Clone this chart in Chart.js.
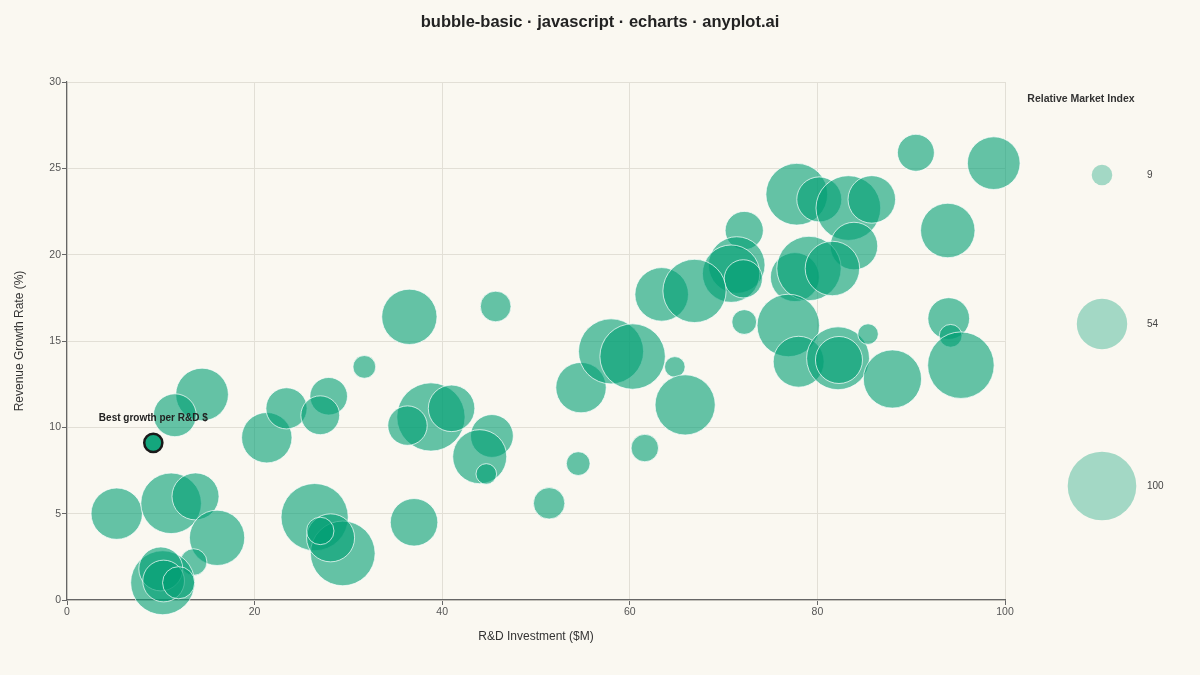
<!DOCTYPE html>
<html>
<head>
<meta charset="utf-8">
<script src="https://cdn.jsdelivr.net/npm/chart.js@4.4.1/dist/chart.umd.min.js"></script>
<style>
  html, body { margin: 0; padding: 0; background: #FAF8F1; }
  #wrap { width: 1200px; height: 675px; }
</style>
</head>
<body>
<div id="wrap"><canvas id="bubble-chart" width="1200" height="675"></canvas></div>
<script>
// R&D investment ($M), revenue growth (%), relative market index
const rdInvestment = [36.5, 31.7, 14.4, 11.5, 21.3, 23.4, 27.9, 27.0, 5.3, 11.1, 13.7, 16.0, 13.5,
    10.2, 10.0, 10.3, 11.9, 26.4, 29.4, 28.1, 27.0, 37.0, 38.8, 36.3, 41.0, 45.7, 45.3, 44.0, 44.7,
    51.4, 54.5, 54.8, 58.0, 60.3, 64.8, 65.9, 61.6, 90.5, 98.8, 93.9, 77.8, 80.2, 83.3, 85.8, 83.9,
    72.2, 71.4, 70.8, 72.1, 72.2, 63.4, 66.9, 77.6, 79.1, 81.6, 76.9, 78.0, 82.2, 82.3, 85.4, 88.0,
    94.0, 94.2, 95.3];
const growthRate = [16.4, 13.5, 11.9, 10.7, 9.4, 11.1, 11.8, 10.7, 5.0, 5.6, 6.0, 3.6, 2.2,
    1.0, 1.8, 1.1, 1.0, 4.8, 2.7, 3.6, 4.0, 4.5, 10.6, 10.1, 11.1, 17.0, 9.5, 8.3, 7.3,
    5.6, 7.9, 12.3, 14.4, 14.1, 13.5, 11.3, 8.8, 25.9, 25.3, 21.4, 23.5, 23.2, 22.7, 23.2, 20.5,
    21.4, 19.4, 18.9, 18.6, 16.1, 17.7, 17.9, 18.7, 19.2, 19.2, 15.9, 13.8, 14.0, 13.9, 15.4, 12.8,
    16.3, 15.3, 13.6];
const marketIndex = [65, 11, 59, 39, 54, 36, 30, 32, 56, 78, 47, 65, 15,
    87, 41, 37, 22, 96, 89, 49, 16, 48, 99, 33, 46, 20, 39, 62, 9,
    21, 12, 54, 90, 91, 9, 77, 16, 29, 59, 63, 81, 43, 89, 48, 48,
    31, 68, 70, 31, 13, 61, 85, 51, 88, 63, 83, 55, 84, 47, 9, 72,
    37, 11, 94];

// highlighted company
const bestX = [9.2];
const bestY = [9.1];
const bestSize = [7];
const bestLabel = "Best growth per R&D $";

// size legend
const legendValues = [9, 54, 100];
const legendTitle = "Relative Market Index";

const xTicks = [0, 20, 40, 60, 80, 100];
const yTicks = [0, 5, 10, 15, 20, 25, 30];

const chartTitle = 'bubble-basic · javascript · echarts · anyplot.ai';

const FONT = "'Liberation Sans', Arial, Helvetica, sans-serif";
const radiusOf = v => 3.43 * Math.sqrt(v);

const points = rdInvestment.map((x, i) => ({ x: x, y: growthRate[i], r: radiusOf(marketIndex[i]) }));
const bestPoints = bestX.map((x, i) => ({ x: x, y: bestY[i], r: radiusOf(bestSize[i]) }));

const bgPlugin = {
    id: 'bg',
    beforeDraw(chart) {
        const ctx = chart.ctx;
        ctx.save();
        ctx.fillStyle = '#FAF8F1';
        ctx.fillRect(0, 0, chart.width, chart.height);
        ctx.restore();
    }
};

// page title, size legend + callout label
const extrasPlugin = {
    id: 'extras',
    afterDraw(chart) {
        const ctx = chart.ctx;
        ctx.save();
        ctx.textBaseline = 'middle';
        ctx.textAlign = 'center';
        ctx.fillStyle = '#222';
        ctx.font = 'bold 16.5px ' + FONT;
        ctx.fillText(chartTitle, chart.width / 2, 22);

        ctx.fillStyle = '#333';
        ctx.font = 'bold 10.5px ' + FONT;
        ctx.fillText(legendTitle, 1081, 99);

        const legendY = [175, 324, 486];
        legendValues.forEach((v, i) => {
            ctx.beginPath();
            ctx.arc(1102, legendY[i], radiusOf(v), 0, Math.PI * 2);
            ctx.fillStyle = 'rgba(0,158,115,0.35)';
            ctx.fill();
            ctx.fillStyle = '#444';
            ctx.font = '10px ' + FONT;
            ctx.textAlign = 'left';
            ctx.fillText(String(v), 1147, legendY[i]);
        });

        const pt = chart.getDatasetMeta(1).data[0];
        ctx.fillStyle = '#222';
        ctx.font = 'bold 10px ' + FONT;
        ctx.textAlign = 'center';
        ctx.fillText(bestLabel, pt.x, pt.y - 25);
        ctx.restore();
    }
};

Chart.defaults.font.family = FONT;

window.charts = window.charts || {};
window.charts["bubble-chart"] = new Chart(document.getElementById('bubble-chart'), {
    type: 'bubble',
    data: {
        datasets: [{
            label: 'Companies',
            data: points,
            backgroundColor: 'rgba(0,158,115,0.6)',
            borderColor: 'rgba(255,255,255,0.7)',
            borderWidth: 1,
            clip: false
        },
        {
            label: 'Best',
            data: bestPoints,
            backgroundColor: 'rgba(0,158,115,0.92)',
            borderColor: '#1a1a1a',
            borderWidth: 2.5,
            clip: false
        }]
    },
    options: {
        responsive: false,
        animation: false,
        layout: { padding: { left: 0, right: 195, top: 82, bottom: 0 } },
        scales: {
            x: {
                type: 'linear',
                min: 0,
                max: 100,
                afterBuildTicks: s => { s.ticks = xTicks.map(v => ({ value: v })); },
                afterFit: s => { s.height = 75; },
                grid: { color: '#E2DFD6', lineWidth: 1, tickLength: 5, tickColor: '#666' },
                border: { color: '#666', width: 1.2 },
                ticks: { color: '#555', font: { size: 10.5 }, padding: 1 },
                title: {
                    display: true,
                    text: 'R&D Investment ($M)',
                    color: '#333',
                    font: { size: 12 },
                    padding: { top: 0, bottom: 31.6 }
                }
            },
            y: {
                type: 'linear',
                min: 0,
                max: 30,
                afterBuildTicks: s => { s.ticks = yTicks.map(v => ({ value: v })); },
                afterFit: s => { s.width = 67; },
                grid: { color: '#E2DFD6', lineWidth: 1, tickLength: 5, tickColor: '#666' },
                border: { color: '#666', width: 1.2 },
                ticks: { color: '#555', font: { size: 10.5 }, padding: 1 },
                title: {
                    display: true,
                    text: 'Revenue Growth Rate (%)',
                    color: '#333',
                    font: { size: 12 },
                    padding: { top: 12.4, bottom: 0 }
                }
            }
        },
        plugins: {
            legend: { display: false },
            tooltip: { enabled: false },
            title: { display: false }
        }
    },
    plugins: [bgPlugin, extrasPlugin]
});
</script>
</body>
</html>
